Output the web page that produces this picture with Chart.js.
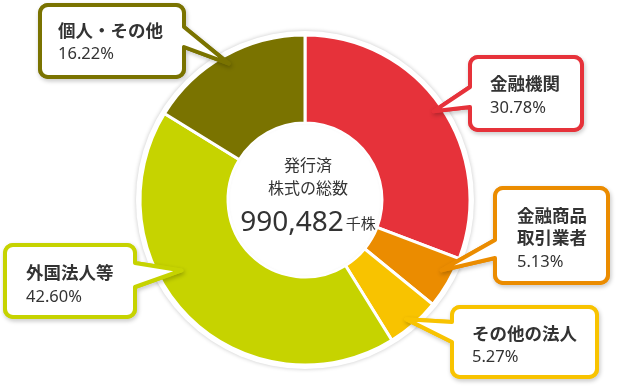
<!DOCTYPE html>
<html lang="ja">
<head>
<meta charset="utf-8">
<title>株式の所有者別分布</title>
<script src="https://cdn.jsdelivr.net/npm/chart.js@4/dist/chart.umd.min.js"></script>
<style>
  html, body { margin: 0; padding: 0; background: #ffffff; }
  #wrap { position: relative; width: 618px; height: 388px; }
</style>
</head>
<body>
<div id="wrap"><canvas id="chart" width="618" height="388"></canvas></div>
<script>
// Shareholder distribution (%), clockwise from 12 o'clock
const categories = ['金融機関', '金融商品取引業者', 'その他の法人', '外国法人等', '個人・その他'];
const labelLines = [['金融機関'], ['金融商品', '取引業者'], ['その他の法人'], ['外国法人等'], ['個人・その他']];
const shares = [30.78, 5.13, 5.27, 42.60, 16.22];
const colors = ['#e6323a', '#eb8c00', '#f8c300', '#c6d300', '#7a7300'];

// Centre caption
const centerTitle = ['発行済', '株式の総数'];
const totalShares = 990482;
const totalUnit = '千株';

const FONT = '"Noto Sans CJK JP", "Noto Sans", sans-serif';
const TEXT = '#333333';

// Callout layout: box rectangle, pointer base on a box side, and where the tip
// lands inside its arc (fraction along the sweep, fraction across the ring).
const callouts = [
  { box: [470, 57, 112, 73], side: 'left',  base: [30, 50], along: 0.5,  across: 0.9,  tx: 20, ty: [26], py: 51 },
  { box: [495, 188, 113, 95], side: 'left', base: [52, 70], along: 0.35, across: 0.87, tx: 22, ty: [27, 49], py: 74 },
  { box: [452, 307, 145, 70], side: 'left', base: [15, 35], along: 0.55, across: 0.9,  tx: 20, ty: [26], py: 50 },
  { box: [5, 245, 130, 72], side: 'right',  base: [18, 42], along: 0.6,  across: 0.74, tx: 21, ty: [27], py: 52 },
  { box: [40, 5, 144, 72], side: 'right',   base: [22, 42], along: 0.5,  across: 0.9,  tx: 18, ty: [25], py: 49 }
];

function bubblePath(ctx, c, tip) {
  const [x, y, w, h] = c.box;
  const r = 8;
  const b0 = y + c.base[0], b1 = y + c.base[1];
  ctx.beginPath();
  ctx.moveTo(x + r, y);
  ctx.lineTo(x + w - r, y);
  ctx.arcTo(x + w, y, x + w, y + r, r);
  if (c.side === 'right') {
    ctx.lineTo(x + w, b0);
    ctx.lineTo(tip.x, tip.y);
    ctx.lineTo(x + w, b1);
  }
  ctx.lineTo(x + w, y + h - r);
  ctx.arcTo(x + w, y + h, x + w - r, y + h, r);
  ctx.lineTo(x + r, y + h);
  ctx.arcTo(x, y + h, x, y + h - r, r);
  if (c.side === 'left') {
    ctx.lineTo(x, b1);
    ctx.lineTo(tip.x, tip.y);
    ctx.lineTo(x, b0);
  }
  ctx.lineTo(x, y + r);
  ctx.arcTo(x, y, x + r, y, r);
  ctx.closePath();
}

// White rim with a soft shadow behind the ring
const rimPlugin = {
  id: 'rim',
  beforeDatasetsDraw(chart) {
    const arc = chart.getDatasetMeta(0).data[0];
    if (!arc) return;
    const { ctx } = chart;
    ctx.save();
    ctx.beginPath();
    ctx.arc(arc.x, arc.y, arc.outerRadius + 4, 0, Math.PI * 2);
    ctx.fillStyle = '#ffffff';
    ctx.shadowColor = 'rgba(0,0,0,0.22)';
    ctx.shadowBlur = 4;
    ctx.fill();
    ctx.restore();
  },
  afterDatasetsDraw(chart) {
    const arc = chart.getDatasetMeta(0).data[0];
    if (!arc) return;
    const { ctx } = chart;
    ctx.save();
    ctx.beginPath();
    ctx.arc(arc.x, arc.y, arc.innerRadius - 1, 0, Math.PI * 2);
    ctx.clip();
    ctx.beginPath();
    ctx.arc(arc.x, arc.y, arc.innerRadius + 6, 0, Math.PI * 2);
    ctx.lineWidth = 8;
    ctx.strokeStyle = '#ffffff';
    ctx.shadowColor = 'rgba(0,0,0,0.22)';
    ctx.shadowBlur = 4;
    ctx.stroke();
    ctx.restore();
  }
};

// Centre caption and callout bubbles
const annotatePlugin = {
  id: 'annotate',
  afterDraw(chart) {
    const { ctx } = chart;
    const meta = chart.getDatasetMeta(0);
    const first = meta.data[0];
    const cx = first.x, cy = first.y;

    ctx.save();
    ctx.fillStyle = TEXT;
    ctx.textAlign = 'center';
    ctx.textBaseline = 'middle';
    ctx.font = '16px ' + FONT;
    ctx.fillText(centerTitle[0], cx + 3, cy - 35);
    ctx.fillText(centerTitle[1], cx + 3, cy - 12);

    const numText = totalShares.toLocaleString('en-US');
    ctx.font = '28px "Noto Sans", sans-serif';
    const nw = ctx.measureText(numText).width;
    ctx.font = '15px ' + FONT;
    const uw = ctx.measureText(totalUnit).width;
    const startX = cx + 3 - (nw + 2 + uw) / 2;
    ctx.textAlign = 'left';
    ctx.textBaseline = 'alphabetic';
    ctx.font = '28px "Noto Sans", sans-serif';
    ctx.fillText(numText, startX, cy + 31);
    ctx.font = '15px ' + FONT;
    ctx.fillText(totalUnit, startX + nw + 2, cy + 29);
    ctx.restore();

    callouts.forEach((c, i) => {
      const arc = meta.data[i];
      const ang = arc.startAngle + c.along * (arc.endAngle - arc.startAngle);
      const rad = arc.innerRadius + c.across * (arc.outerRadius - arc.innerRadius);
      const tip = { x: arc.x + Math.cos(ang) * rad, y: arc.y + Math.sin(ang) * rad };

      ctx.save();
      bubblePath(ctx, c, tip);
      ctx.fillStyle = '#ffffff';
      ctx.shadowColor = 'rgba(0,0,0,0.25)';
      ctx.shadowBlur = 4;
      ctx.shadowOffsetX = 1;
      ctx.shadowOffsetY = 2;
      ctx.lineJoin = 'round';
      ctx.lineWidth = 4;
      ctx.strokeStyle = colors[i];
      ctx.stroke();
      ctx.shadowColor = 'transparent';
      ctx.fill();
      ctx.stroke();

      const [bx, by] = c.box;
      ctx.fillStyle = TEXT;
      ctx.textAlign = 'left';
      ctx.textBaseline = 'middle';
      ctx.font = 'bold 17.5px ' + FONT;
      labelLines[i].forEach((line, k) => ctx.fillText(line, bx + c.tx, by + c.ty[0] + k * 22));
      ctx.font = '16.5px "Noto Sans", sans-serif';
      ctx.fillText(shares[i].toFixed(2) + '%', bx + c.tx, by + c.py);
      ctx.restore();
    });
  }
};

new Chart(document.getElementById('chart'), {
  type: 'doughnut',
  data: {
    labels: categories,
    datasets: [{
      data: shares,
      backgroundColor: colors,
      borderColor: '#ffffff',
      borderWidth: 3,
      hoverOffset: 0
    }]
  },
  options: {
    responsive: false,
    animation: false,
    radius: 165,
    cutout: 87,
    layout: { padding: { left: 0, right: 8, top: 12, bottom: 0 } },
    plugins: {
      legend: { display: false },
      tooltip: { enabled: false }
    },
    events: []
  },
  plugins: [rimPlugin, annotatePlugin]
});
</script>
</body>
</html>
